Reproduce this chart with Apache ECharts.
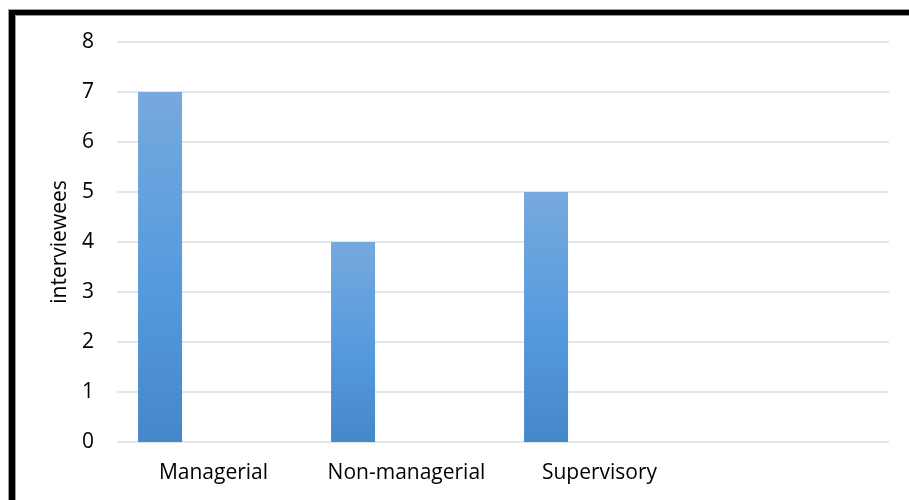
<!DOCTYPE html>
<html>
<head>
<meta charset="utf-8">
<script src="https://cdn.jsdelivr.net/npm/echarts@6/dist/echarts.min.js"></script>
<style>
  html, body { margin: 0; padding: 0; background: #fff; }
  #chart { width: 909px; height: 500px; }
</style>
</head>
<body>
<div id="chart"></div>
<script>
// Interviewees by staff level
const categories = ['Managerial', 'Non-managerial', 'Supervisory', ''];
const interviewees = [7, 4, 5, null];
const spare = [null, null, null, null];   // second, unused series slot in each group
const yTicks = [0, 1, 2, 3, 4, 5, 6, 7, 8];

const FONT = 'Open Sans';
const FONT_SIZE = 21;
const barFill = new echarts.graphic.LinearGradient(0, 0, 0, 1, [
  { offset: 0, color: '#76a9dd' },
  { offset: 0.55, color: '#559ade' },
  { offset: 1, color: '#4588c9' }
]);

const chart = echarts.init(document.getElementById('chart'), null, { renderer: 'canvas' });
chart.setOption({
  animation: false,
  backgroundColor: '#ffffff',
  grid: { left: 117, right: 20, top: 42, bottom: 58, containLabel: false },
  xAxis: {
    type: 'category',
    data: categories,
    axisLine: { show: false },
    axisTick: { show: false },
    axisLabel: {
      color: '#000', fontFamily: FONT, fontSize: FONT_SIZE, margin: 21,
      interval: 0, hideOverlap: false
    }
  },
  yAxis: {
    type: 'value',
    min: yTicks[0],
    max: yTicks[yTicks.length - 1],
    interval: 1,
    name: 'interviewees',
    nameLocation: 'middle',
    nameRotate: 90,
    nameGap: 46,
    nameTextStyle: { color: '#000', fontFamily: FONT, fontSize: FONT_SIZE },
    axisLine: { show: false },
    axisTick: { show: false },
    axisLabel: { color: '#000', fontFamily: FONT, fontSize: FONT_SIZE, margin: 23 },
    splitLine: { lineStyle: { color: '#dadee4', width: 1.5 } }
  },
  series: [
    {
      type: 'bar',
      data: interviewees,
      barWidth: 44,
      barGap: '143%',
      itemStyle: { color: barFill }
    },
    {
      type: 'bar',
      data: spare,
      barWidth: 44,
      itemStyle: { color: barFill }
    }
  ],
  graphic: [
    // frame: thin grey edge with a heavy black rule along the top and left
    { type: 'rect', shape: { x: 8, y: 9, width: 901, height: 7 }, style: { fill: '#9a9a9a' } },
    { type: 'rect', shape: { x: 8, y: 9, width: 8, height: 491 }, style: { fill: '#9a9a9a' } },
    { type: 'rect', shape: { x: 9, y: 10, width: 900, height: 5 }, style: { fill: '#000' } },
    { type: 'rect', shape: { x: 9, y: 10, width: 6, height: 490 }, style: { fill: '#000' } }
  ]
});
</script>
</body>
</html>
